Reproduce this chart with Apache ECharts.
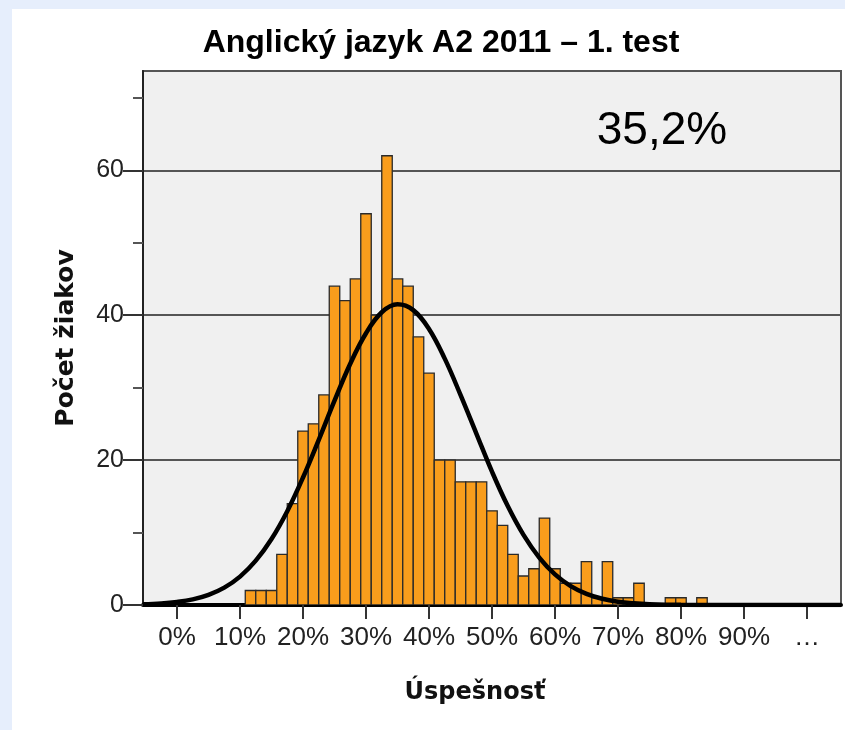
<!DOCTYPE html>
<html><head><meta charset="utf-8">
<script src="https://cdn.jsdelivr.net/npm/echarts@6/dist/echarts.min.js"></script>
<style>html,body{margin:0;padding:0;background:#e6eefc;} #c{width:845px;height:730px;}</style>
</head><body><div id="c"></div>
<script>
// ---- data ----
const chartTitle = 'Anglický jazyk A2 2011 – 1. test';
const yTitle = 'Počet žiakov';
const xTitle = 'Úspešnosť';
const meanLabel = '35,2%';
const maxPoints = 60; // each bar = one point of a 60-point test
const scores = [7,8,9,10,11,12,13,14,15,16,17,18,19,20,21,22,23,24,25,26,27,28,29,30,31,32,33,34,35,36,37,38,39,40,41,42,43,44,45,46,47,48,49,50];
const counts = [2,2,2,7,14,24,25,29,44,42,45,54,40,62,45,44,37,32,20,20,17,17,17,13,11,7,4,5,12,5,3,3,6,1,6,1,1,3,0,0,1,1,0,1];
// fitted normal curve (x in %, y in students)
const curveX = [-5.4,-2.5,0,2.5,5,7.5,10,12.5,15,17.5,20,22.5,25,27.5,30,32.5,35,37.5,40,42.5,45,47.5,50,52.5,55,57.5,60,62.5,65,67.5,70,72.5,75,80,85,105.4];
const curveY = [0.09,0.21,0.42,0.78,1.4,2.4,3.92,6.12,9.11,12.95,17.6,22.8,28.2,33.3,37.5,40.4,41.5,40.7,38.1,34.0,29.0,23.7,18.4,13.65,9.67,6.54,4.22,2.6,1.53,0.86,0.46,0.24,0.12,0.02,0,0];
const xTickValues = [0,10,20,30,40,50,60,70,80,90,100];
const xTickLabels = ['0%','10%','20%','30%','40%','50%','60%','70%','80%','90%','…'];
const yMajorTicks = [0,20,40,60];
const yMinorTicks = [10,30,50,70];

const sans = '"Liberation Sans",Arial,sans-serif';
const chart = echarts.init(document.getElementById('c'), null, {renderer:'canvas'});
const barData = scores.map((s,i)=>[s*100/maxPoints, counts[i]]);
const half = 50/maxPoints;
const xMin = -5.4, xMax = 105.4, yMax = 73.7;

chart.setOption({
  animation:false,
  backgroundColor:'#e6eefc',
  graphic:[
    {type:'rect', left:12, top:9, shape:{width:833, height:721}, style:{fill:'#ffffff'}, z:-10}
  ],
  title:[
    {text:chartTitle, left:436, top:22, textAlign:'center',
     textStyle:{fontFamily:sans, fontWeight:'bold', fontSize:32, color:'#000'}},
    {text:meanLabel, left:657, top:103, textAlign:'center',
     textStyle:{fontFamily:sans, fontWeight:'normal', fontSize:46, color:'#000'}},
    {text:xTitle, left:470, top:676, textAlign:'center',
     textStyle:{fontFamily:'"DejaVu Sans",Verdana,sans-serif', fontWeight:'bold', fontSize:24, color:'#111'}}
  ],
  grid:{left:143, top:71, right:4, bottom:125, show:true, backgroundColor:'#f0f0f0', borderColor:'#555', borderWidth:2},
  xAxis:{
    type:'value', min:xMin, max:xMax,
    axisLine:{show:true, onZero:false, lineStyle:{color:'#000', width:4}},
    axisTick:{show:true, customValues:xTickValues, length:14, lineStyle:{color:'#333', width:2}},
    axisLabel:{customValues:xTickValues, margin:20, fontFamily:sans, fontSize:26, color:'#222',
      formatter:(v)=>{const i=xTickValues.indexOf(v); return i>=0?xTickLabels[i]:'';}},
    splitLine:{show:false}
  },
  yAxis:[{
    type:'value', min:0, max:yMax, interval:20,
    name:yTitle, nameLocation:'middle', nameGap:64, nameRotate:90,
    nameTextStyle:{fontFamily:'"DejaVu Sans",Verdana,sans-serif', fontWeight:'bold', fontSize:25, color:'#111'},
    axisLine:{show:true, onZero:false, lineStyle:{color:'#222', width:2}},
    axisTick:{show:true, customValues:yMajorTicks, length:20, lineStyle:{color:'#333', width:2}},
    axisLabel:{customValues:yMajorTicks, margin:19, fontFamily:sans, fontSize:25, color:'#222'},
    splitLine:{show:true, lineStyle:{color:'#555', width:2}}
  },{
    type:'value', min:0, max:yMax, position:'left',
    axisLine:{show:false, onZero:false}, axisLabel:{show:false}, splitLine:{show:false},
    axisTick:{show:true, customValues:yMinorTicks, length:10, lineStyle:{color:'#555', width:2}}
  }],
  series:[{
    type:'custom', xAxisIndex:0, yAxisIndex:0, data:barData, clip:true, z:2,
    renderItem:(params, api)=>{
      const x = api.value(0), y = api.value(1);
      if (!y) return {type:'group', children:[]};
      const p1 = api.coord([x-half, y]);
      const p2 = api.coord([x+half, 0]);
      return {type:'rect', shape:{x:p1[0], y:p1[1], width:p2[0]-p1[0], height:p2[1]-p1[1]},
        style:{fill:'#f99d1c', stroke:'#2a2a2a', lineWidth:1.3}};
    }
  },{
    type:'line', data:curveX.map((x,i)=>[x,curveY[i]]), smooth:0.4, symbol:'none', z:5,
    lineStyle:{color:'#000', width:4.5}
  }]
});
</script></body></html>
